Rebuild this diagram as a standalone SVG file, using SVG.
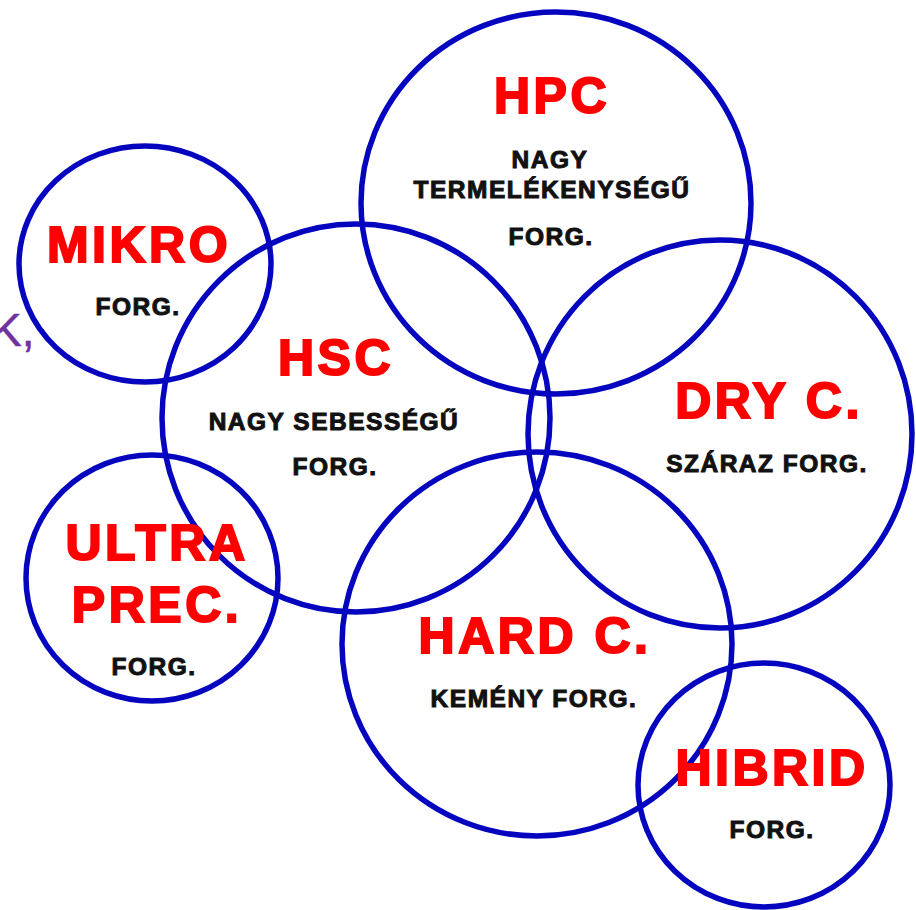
<svg xmlns="http://www.w3.org/2000/svg" width="916" height="910" viewBox="0 0 916 910">
<style>
.c{fill:none;stroke:#0505c0;stroke-width:5.5}
.t{font-family:"Liberation Sans",Arial,sans-serif;font-weight:bold;fill:#ff0000;stroke:#ff0000;stroke-width:2;font-size:50px;letter-spacing:3.5px;text-anchor:middle}
.s{font-family:"Liberation Sans",Arial,sans-serif;font-weight:bold;fill:#111;stroke:#111;stroke-width:1;font-size:24.5px;letter-spacing:1.5px;text-anchor:middle}
.p{font-family:"Liberation Sans",Arial,sans-serif;fill:#7030a0;stroke:#7030a0;stroke-width:0.5;font-size:46px}
</style>
<rect width="916" height="910" fill="#fff"/>
<text class="p" x="-9" y="346">K,</text>
<g id="circles">
<ellipse id="c-mikro" class="c" cx="145" cy="264" rx="126" ry="118"/>
<ellipse id="c-hpc" class="c" cx="556" cy="203" rx="195" ry="191"/>
<ellipse id="c-hsc" class="c" cx="356" cy="418" rx="194" ry="194"/>
<ellipse id="c-dry" class="c" cx="720" cy="434" rx="192" ry="194"/>
<ellipse id="c-ultra" class="c" cx="152" cy="578" rx="126" ry="123"/>
<ellipse id="c-hard" class="c" cx="537" cy="644" rx="195" ry="192"/>
<ellipse id="c-hibrid" class="c" cx="764" cy="785" rx="126" ry="122"/>
</g>
<g id="mikro">
<text class="t" x="139" y="262">MIKRO</text>
<text class="s" x="138" y="315">FORG.</text>
</g>
<g id="hpc">
<text class="t" x="552" y="113">HPC</text>
<text class="s" x="550" y="168">NAGY</text>
<text class="s" x="552" y="198">TERMELÉKENYSÉGŰ</text>
<text class="s" x="551" y="245">FORG.</text>
</g>
<g id="hsc">
<text class="t" x="336" y="375">HSC</text>
<text class="s" x="334" y="430">NAGY SEBESSÉGŰ</text>
<text class="s" x="335" y="475">FORG.</text>
</g>
<g id="dry">
<text class="t" x="769" y="418">DRY C.</text>
<text class="s" x="767" y="472">SZÁRAZ FORG.</text>
</g>
<g id="ultra">
<text class="t" x="157" y="560">ULTRA</text>
<text class="t" x="157" y="622">PREC.</text>
<text class="s" x="154" y="675">FORG.</text>
</g>
<g id="hard">
<text class="t" x="535" y="653">HARD C.</text>
<text class="s" x="534" y="707">KEMÉNY FORG.</text>
</g>
<g id="hibrid">
<text class="t" x="772" y="785">HIBRID</text>
<text class="s" x="772" y="838">FORG.</text>
</g>
</svg>
